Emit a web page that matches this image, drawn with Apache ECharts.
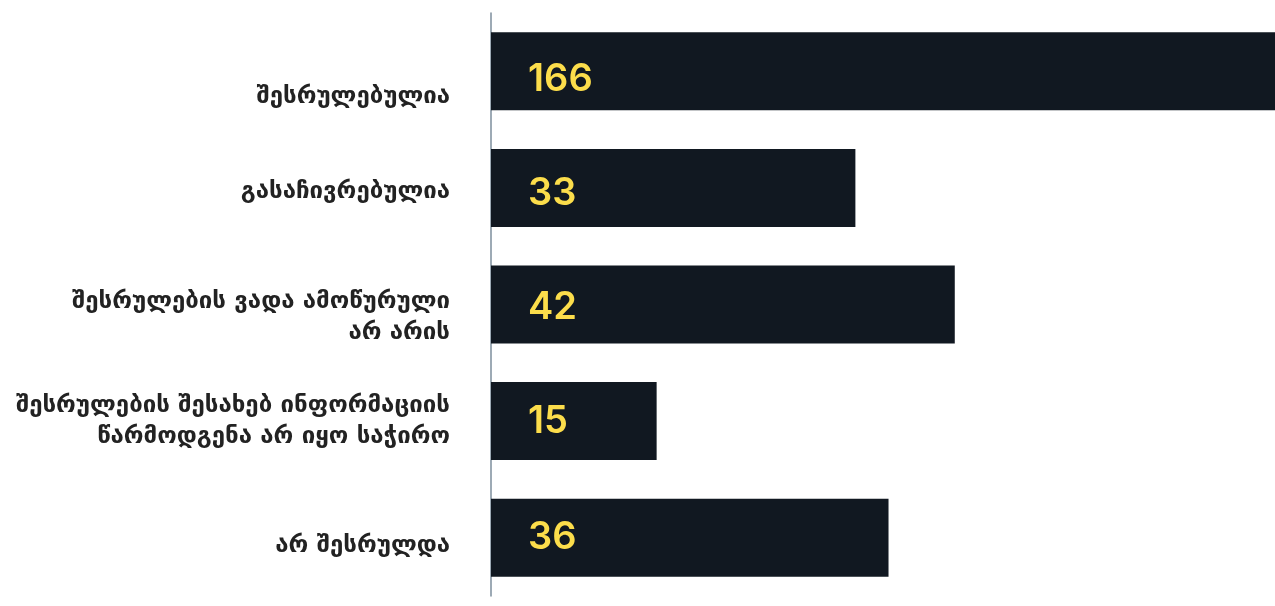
<!DOCTYPE html>
<html>
<head>
<meta charset="utf-8">
<script src="https://cdn.jsdelivr.net/npm/echarts@6/dist/echarts.min.js"></script>
<style>
  html, body { margin: 0; padding: 0; background: #fff; }
  #main { width: 1275px; height: 606px; }
</style>
</head>
<body>
<div id="main"></div>
<script>
// categories, top to bottom
var categories = [
    'შესრულებულია',
    'გასაჩივრებულია',
    'შესრულების ვადა ამოწურული\nარ არის',
    'შესრულების შესახებ ინფორმაციის\nწარმოდგენა არ იყო საჭირო',
    'არ შესრულდა'
];
var counts = [166, 33, 42, 15, 36];

// small vertical nudges of the labels, as in the original
var labelShift = [25, 4, 13, 0, 8];
var valueShift = [8, 6, 3, 0, 0];

var chart = echarts.init(document.getElementById('main'));

var rich = {};
labelShift.forEach(function (s, i) {
    rich['s' + i] = {
        color: '#222222',
        fontFamily: 'DejaVu Sans',
        fontWeight: 'bold',
        fontSize: 24,
        lineHeight: 31,
        align: 'right',
        padding: [s * 2, 0, 0, 0]
    };
});

var barData = counts.map(function (v, i) {
    return { value: v, label: { offset: [0, valueShift[i]] } };
});

var option = {
    animation: false,
    grid: { left: 491, right: 0, top: 13, bottom: 10, containLabel: false },
    xAxis: {
        type: 'value',
        min: 0,
        max: 71,
        show: false
    },
    yAxis: {
        type: 'category',
        inverse: true,
        data: categories,
        axisLine: { show: true, lineStyle: { color: '#7d8e9c', width: 1.5 } },
        axisTick: { show: false },
        axisLabel: {
            margin: 41,
            align: 'right',
            formatter: function (val, idx) {
                var lines = val.split('\n');
                if (lines.length === 1) return '{s' + idx + '|' + val + '}';
                return lines.map(function (l) { return '{s' + idx + '|' + l + '}'; }).join('\n');
            },
            rich: rich
        }
    },
    series: [{
        type: 'bar',
        data: barData,
        barWidth: 78,
        clip: true,
        itemStyle: { color: '#111821' },
        label: {
            show: true,
            position: 'insideLeft',
            distance: 37,
            color: '#FCDD4B',
            fontFamily: 'Inter',
            fontWeight: 600,
            fontSize: 38
        }
    }]
};

chart.setOption(option);
</script>
</body>
</html>
